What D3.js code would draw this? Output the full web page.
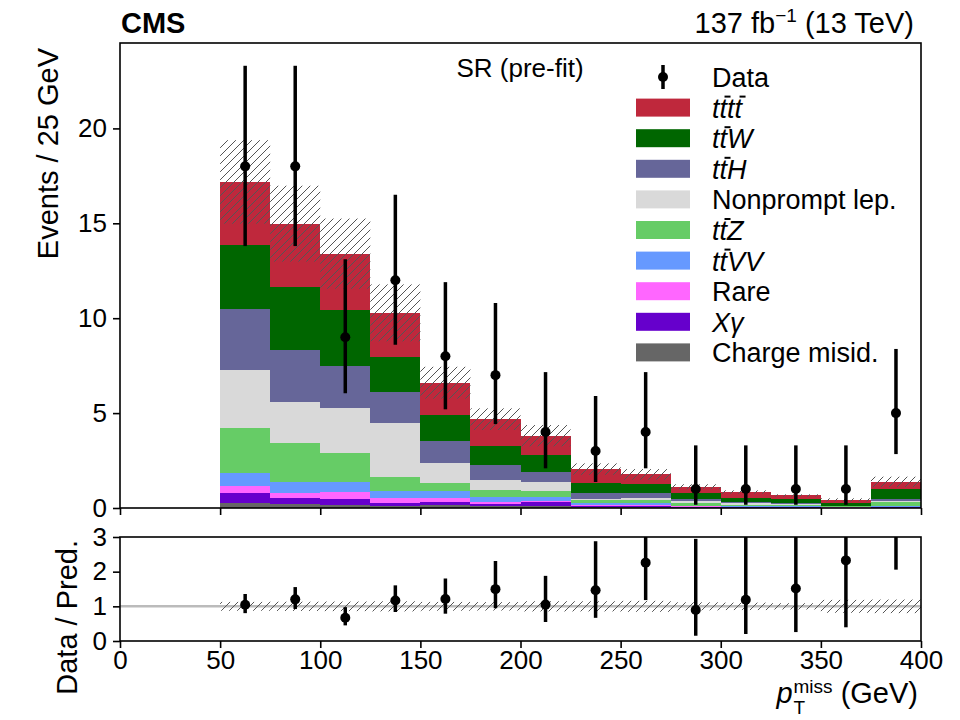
<!DOCTYPE html>
<html>
<head>
<meta charset="utf-8">
<script src="https://cdn.jsdelivr.net/npm/d3@7"></script>
<style>
  body { margin: 0; background: #fff; }
  text { font-family: "Liberation Sans", Arial, Helvetica, sans-serif; fill: #000; }
</style>
</head>
<body>
<svg id="chart" width="960" height="720"></svg>
<script>
// bins (lower edges, GeV), each 25 GeV wide
const binLo = [50, 75, 100, 125, 150, 175, 200, 225, 250, 275, 300, 325, 350, 375];
const binWidth = 25;

// expected yields per process
const chargeMisid = [0.25, 0.20, 0.15, 0.10, 0.14, 0.10, 0.08, 0.05, 0.04, 0.02, 0.02, 0.02, 0.01, 0.02];
const xGamma      = [0.56, 0.31, 0.31, 0.18, 0.16, 0.11, 0.22, 0.05, 0.06, 0.03, 0.01, 0.01, 0.01, 0.02];
const rare        = [0.35, 0.30, 0.37, 0.26, 0.24, 0.12, 0.07, 0.07, 0.07, 0.03, 0.02, 0.02, 0.01, 0.02];
const ttVV        = [0.67, 0.57, 0.55, 0.35, 0.35, 0.27, 0.23, 0.08, 0.08, 0.04, 0.03, 0.03, 0.02, 0.06];
const ttZ         = [2.40, 2.02, 1.50, 0.76, 0.44, 0.35, 0.29, 0.17, 0.17, 0.13, 0.08, 0.07, 0.03, 0.18];
const nonprompt   = [3.03, 2.20, 2.40, 2.81, 1.05, 0.52, 0.49, 0.08, 0.13, 0.10, 0.09, 0.05, 0.02, 0.05];
const ttH         = [3.21, 2.70, 2.19, 1.63, 1.15, 0.78, 0.50, 0.27, 0.22, 0.11, 0.08, 0.05, 0.02, 0.11];
const ttW         = [3.41, 3.35, 2.95, 1.87, 1.36, 1.03, 0.89, 0.56, 0.49, 0.31, 0.21, 0.21, 0.16, 0.52];
const tttt        = [3.30, 3.33, 2.98, 2.32, 1.71, 1.40, 1.04, 0.72, 0.51, 0.35, 0.30, 0.20, 0.15, 0.40];

// total prediction uncertainty (absolute)
const predUnc = [2.2, 2.0, 1.85, 1.5, 0.84, 0.57, 0.56, 0.30, 0.28, 0.13, 0.09, 0.06, 0.08, 0.27];

// observed data with error bar ends
const dataObs = [18, 18, 9, 12, 8, 7, 4, 3, 4, 1, 1, 1, 1, 5];
const dataLo  = [13.8, 13.8, 6.04, 8.6, 5.2, 4.42, 2.09, 1.37, 2.09, 0.17, 0.17, 0.17, 0.17, 2.84];
const dataHi  = [23.3, 23.3, 13.1, 16.5, 11.9, 10.8, 7.16, 5.9, 7.16, 3.3, 3.3, 3.3, 3.3, 8.38];

const xTicks = [0, 50, 100, 150, 200, 250, 300, 350, 400];
const yTicks = [0, 5, 10, 15, 20];
const ratioTicks = [0, 1, 2, 3];

// processes, bottom of the stack first
const processes = [
  { key: "charge", values: chargeMisid, color: "#666666", label: [{ t: "Charge misid." }] },
  { key: "xg", values: xGamma, color: "#6600cc", label: [{ t: "X", i: true }, { t: "γ", i: true }] },
  { key: "rare", values: rare, color: "#ff66ff", label: [{ t: "Rare" }] },
  { key: "ttvv", values: ttVV, color: "#6699ff", label: [{ t: "t", i: true }, { t: "t", i: true, bar: true }, { t: "VV", i: true }] },
  { key: "ttz", values: ttZ, color: "#66cc66", label: [{ t: "t", i: true }, { t: "t", i: true, bar: true }, { t: "Z", i: true }] },
  { key: "np", values: nonprompt, color: "#d9d9d9", label: [{ t: "Nonprompt lep." }] },
  { key: "tth", values: ttH, color: "#666699", label: [{ t: "t", i: true }, { t: "t", i: true, bar: true }, { t: "H", i: true }] },
  { key: "ttw", values: ttW, color: "#006600", label: [{ t: "t", i: true }, { t: "t", i: true, bar: true }, { t: "W", i: true }] },
  { key: "tttt", values: tttt, color: "#bf283c", label: [{ t: "t", i: true }, { t: "t", i: true, bar: true }, { t: "t", i: true }, { t: "t", i: true, bar: true }] }
];

const svg = d3.select("#chart");
const left = 120, right = 921;
const mainTop = 43, mainBot = 508;
const ratTop = 537, ratBot = 641;
const fs = 26;

const x = d3.scaleLinear().domain([0, 400]).range([left, right]);
const y = d3.scaleLinear().domain([0, 24.5]).range([mainBot, mainTop]);
const yr = d3.scaleLinear().domain([0, 3]).range([ratBot, ratTop]);

// hatch pattern
const defs = svg.append("defs");
const pat = defs.append("pattern")
  .attr("id", "hatch").attr("patternUnits", "userSpaceOnUse")
  .attr("width", 8).attr("height", 8);
pat.append("path")
  .attr("d", "M-2,2 l4,-4 M0,8 l8,-8 M6,10 l4,-4")
  .attr("stroke", "#555").attr("stroke-width", 1);
defs.append("clipPath").attr("id", "clipMain")
  .append("rect").attr("x", left).attr("y", mainTop).attr("width", right - left).attr("height", mainBot - mainTop);
defs.append("clipPath").attr("id", "clipRatio")
  .append("rect").attr("x", left).attr("y", ratTop).attr("width", right - left).attr("height", ratBot - ratTop);

// build rows for d3.stack
const rows = binLo.map((lo, i) => {
  const r = { lo: lo };
  processes.forEach(p => { r[p.key] = p.values[i]; });
  return r;
});
const stacked = d3.stack().keys(processes.map(p => p.key))(rows);
const total = rows.map(r => d3.sum(processes, p => r[p.key]));

const gMain = svg.append("g").attr("clip-path", "url(#clipMain)");

// stacked histogram
stacked.forEach((layer, li) => {
  gMain.append("g")
    .selectAll("rect")
    .data(layer)
    .enter()
    .append("rect")
    .attr("x", d => x(d.data.lo))
    .attr("width", d => x(d.data.lo + binWidth) - x(d.data.lo))
    .attr("y", d => y(d[1]))
    .attr("height", d => y(d[0]) - y(d[1]))
    .attr("fill", processes[li].color)
    .attr("shape-rendering", "crispEdges");
});

// uncertainty hatch
gMain.append("g")
  .selectAll("rect")
  .data(binLo)
  .enter()
  .append("rect")
  .attr("x", d => x(d))
  .attr("width", d => x(d + binWidth) - x(d))
  .attr("y", (d, i) => y(total[i] + predUnc[i]))
  .attr("height", (d, i) => y(total[i] - predUnc[i]) - y(total[i] + predUnc[i]))
  .attr("fill", "url(#hatch)");

// data points
const gData = gMain.append("g");
binLo.forEach((lo, i) => {
  const cx = x(lo + binWidth / 2);
  gData.append("line")
    .attr("x1", cx).attr("x2", cx)
    .attr("y1", y(dataLo[i])).attr("y2", y(dataHi[i]))
    .attr("stroke", "#000").attr("stroke-width", 3.5);
  gData.append("circle").attr("cx", cx).attr("cy", y(dataObs[i])).attr("r", 5).attr("fill", "#000");
});

// ratio panel
const gRat = svg.append("g").attr("clip-path", "url(#clipRatio)");
gRat.append("line")
  .attr("x1", x(0)).attr("x2", x(400))
  .attr("y1", yr(1)).attr("y2", yr(1))
  .attr("stroke", "#bbbbbb").attr("stroke-width", 2.5);
gRat.append("g")
  .selectAll("rect")
  .data(binLo)
  .enter()
  .append("rect")
  .attr("x", d => x(d))
  .attr("width", d => x(d + binWidth) - x(d))
  .attr("y", (d, i) => yr(1 + predUnc[i] / total[i]))
  .attr("height", (d, i) => yr(1 - predUnc[i] / total[i]) - yr(1 + predUnc[i] / total[i]))
  .attr("fill", "url(#hatch)");
binLo.forEach((lo, i) => {
  const cx = x(lo + binWidth / 2);
  gRat.append("line")
    .attr("x1", cx).attr("x2", cx)
    .attr("y1", yr(dataLo[i] / total[i])).attr("y2", yr(dataHi[i] / total[i]))
    .attr("stroke", "#000").attr("stroke-width", 3.5);
  gRat.append("circle").attr("cx", cx).attr("cy", yr(dataObs[i] / total[i])).attr("r", 5).attr("fill", "#000");
});

// axes
function styleAxis(g) {
  g.select(".domain").remove();
  g.selectAll(".tick line").attr("stroke", "#000").attr("stroke-width", 1.6);
  g.selectAll(".tick text").style("font-size", fs + "px").attr("fill", "#000");
}
svg.append("g").attr("transform", `translate(${left},0)`)
  .call(d3.axisLeft(y).tickValues(yTicks).tickSize(7).tickPadding(6))
  .call(styleAxis);
svg.append("g").attr("transform", `translate(0,${mainBot})`)
  .call(d3.axisBottom(x).tickValues(xTicks).tickSize(7).tickFormat(""))
  .call(styleAxis);
svg.append("g").attr("transform", `translate(${left},0)`)
  .call(d3.axisLeft(yr).tickValues(ratioTicks).tickSize(7).tickPadding(6).tickFormat(d3.format("d")))
  .call(styleAxis);
svg.append("g").attr("transform", `translate(0,${ratBot})`)
  .call(d3.axisBottom(x).tickValues(xTicks).tickSize(7).tickPadding(3))
  .call(styleAxis);

// frames
[[mainTop, mainBot], [ratTop, ratBot]].forEach(([t, b]) => {
  svg.append("rect")
    .attr("x", left).attr("y", t).attr("width", right - left).attr("height", b - t)
    .attr("fill", "none").attr("stroke", "#000").attr("stroke-width", 1.6);
});

// header texts
svg.append("text").attr("x", left + 1).attr("y", 33)
  .style("font-size", "29px").style("font-weight", "bold").text("CMS");
const lumi = svg.append("text").attr("x", 914).attr("y", 33)
  .attr("text-anchor", "end").style("font-size", "29px");
lumi.append("tspan").text("137 fb");
lumi.append("tspan").attr("dy", -11).style("font-size", "19px").text("−1");
lumi.append("tspan").attr("dy", 11).text(" (13 TeV)");

svg.append("text").attr("x", 520).attr("y", 77)
  .attr("text-anchor", "middle").style("font-size", "26px").text("SR (pre-fit)");

// axis titles
svg.append("text")
  .attr("transform", `translate(58,${mainTop + 5}) rotate(-90)`)
  .attr("text-anchor", "end").style("font-size", "29px")
  .text("Events / 25 GeV");
svg.append("text")
  .attr("transform", `translate(77,${ratTop + 3}) rotate(-90)`)
  .attr("text-anchor", "end").style("font-size", "29px")
  .text("Data / Pred.");

// x title: p_T^miss (GeV)
const xt = svg.append("g");
const tp = xt.append("text").attr("x", 0).attr("y", 0).style("font-size", "29px").style("font-style", "italic").text("p");
const pw = tp.node().getComputedTextLength() + 1;
const ts = xt.append("text").attr("x", pw).attr("y", 11).style("font-size", "19px").text("T");
const tm = xt.append("text").attr("x", pw).attr("y", -10).style("font-size", "19px").text("miss");
const mw = Math.max(ts.node().getComputedTextLength(), tm.node().getComputedTextLength());
const tg = xt.append("text").attr("x", pw + mw).attr("y", 0).style("font-size", "29px").text("\u00a0(GeV)");
const xtw = pw + mw + tg.node().getComputedTextLength();
xt.attr("transform", `translate(${right - 3 - xtw},703)`);

// legend
const legX = 636, legTextX = 712, legY0 = 77, legStep = 30.6;
const legend = svg.append("g");
legend.append("line").attr("x1", 663).attr("x2", 663).attr("y1", legY0 - 12).attr("y2", legY0 + 12)
  .attr("stroke", "#000").attr("stroke-width", 3.5);
legend.append("circle").attr("cx", 663).attr("cy", legY0).attr("r", 5).attr("fill", "#000");
legend.append("text").attr("x", legTextX).attr("y", legY0 + 10).style("font-size", "27px").text("Data");

processes.slice().reverse().forEach((p, k) => {
  const cy = legY0 + legStep * (k + 1);
  legend.append("rect").attr("x", legX).attr("y", cy - 9).attr("width", 54).attr("height", 18).attr("fill", p.color);
  const txt = legend.append("text").attr("x", legTextX).attr("y", cy + 10).style("font-size", "27px");
  const spans = p.label.map(s => txt.append("tspan").style("font-style", s.i ? "italic" : "normal").text(s.t));
  p.label.forEach((s, j) => {
    if (!s.bar) return;
    // anti-top bar above the second t
    const bb = spans[j].node().getBBox();
    legend.append("line")
      .attr("x1", bb.x + 5).attr("x2", bb.x + bb.width + 2)
      .attr("y1", bb.y + 3).attr("y2", bb.y + 3)
      .attr("stroke", "#000").attr("stroke-width", 2);
  });
});
</script>
</body>
</html>
